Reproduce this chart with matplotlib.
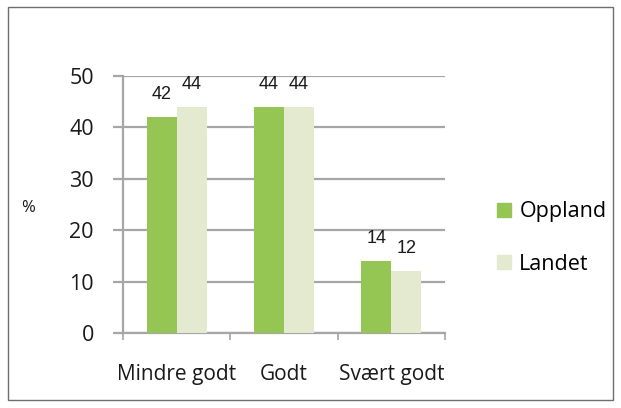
import matplotlib
matplotlib.use("Agg")
import matplotlib.pyplot as plt
from matplotlib.patches import Patch, Rectangle
import numpy as np

categories = ["Mindre godt", "Godt", "Svært godt"]
series_names = ["Oppland", "Landet"]
oppland = [42, 44, 14]
landet = [44, 44, 12]
yticks = [0, 10, 20, 30, 40, 50]
colors = ["#95C653", "#E4EAD0"]
TXT = "#1a1a1a"

fig = plt.figure(figsize=(6.21, 4.08), dpi=100)
fig.patches.append(Rectangle((8/621, 8/408), 605/621, 393/408, transform=fig.transFigure,
                             fill=False, edgecolor="#6E6E6E", linewidth=1.0))
ax = fig.add_axes([123/621, 75/408, 322/621, 257/408])

x = np.arange(len(categories))
w = 0.28
b1 = ax.bar(x - 0.14, oppland, w, color=colors[0], zorder=3)
b2 = ax.bar(x + 0.14, landet, w, color=colors[1], zorder=3)

for bars, vals in ((b1, oppland), (b2, landet)):
    for r, v in zip(bars, vals):
        ax.annotate(str(v), (r.get_x() + r.get_width()/2, v), xytext=(0, 10),
                    textcoords="offset points", ha="center", va="bottom",
                    fontsize=13, family="Liberation Sans", color=TXT)

ax.set_xlim(-0.5, 2.5)
ax.set_ylim(0, 50)
ax.set_yticks(yticks)
ax.set_yticklabels([str(t) for t in yticks], fontsize=15.5, family="Open Sans", color=TXT)
ax.yaxis.grid(True, color="#A6A6A6", linewidth=1.6, zorder=0)
ax.tick_params(axis="y", length=7, width=1.6, color="#A6A6A6", pad=14)
ax.set_xticks(x)
ax.set_xticklabels(categories, fontsize=15, family="Open Sans", color=TXT)
ax.tick_params(axis="x", length=0, pad=22)
ax.set_xticks([-0.5, 0.5, 1.5, 2.5], minor=True)
ax.tick_params(axis="x", which="minor", length=5, width=1.2, color="#A6A6A6")
for s in ("top", "right"):
    ax.spines[s].set_visible(False)
for s in ("left", "bottom"):
    ax.spines[s].set_color("#A6A6A6")
    ax.spines[s].set_linewidth(1.6)
ax.set_axisbelow(True)

fig.text(28/621, 1 - 208/408, "%", fontsize=12, family="Open Sans", ha="center", va="center", color=TXT)

handles = [Patch(color=c) for c in colors]
fig.legend(handles, series_names, loc="center left", bbox_to_anchor=(478/621, 1 - 238/408),
           frameon=False, prop={"family": "Open Sans", "size": 15.5}, handlelength=0.62, handleheight=0.62,
           handletextpad=0.4, labelspacing=1.45)

fig.savefig("out.png", dpi=100)
